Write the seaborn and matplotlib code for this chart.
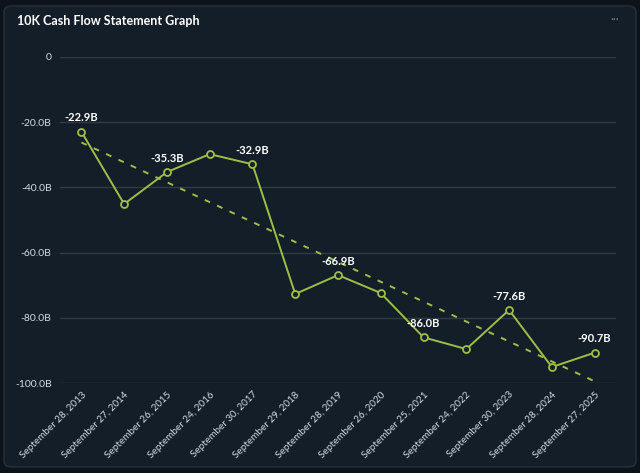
import numpy as np
import pandas as pd
import seaborn as sns
import matplotlib
matplotlib.use("Agg")
import matplotlib.pyplot as plt
from matplotlib.patches import FancyBboxPatch

# fiscal year end dates and values (billions)
dates = ["September 28, 2013", "September 27, 2014", "September 26, 2015",
         "September 24, 2016", "September 30, 2017", "September 29, 2018",
         "September 28, 2019", "September 26, 2020", "September 25, 2021",
         "September 24, 2022", "September 30, 2023", "September 28, 2024",
         "September 27, 2025"]
values = [-22.9, -45.1, -35.3, -29.8, -32.9, -72.7, -66.9, -72.4,
          -86.0, -89.6, -77.6, -95.1, -90.7]
labelled = [0, 2, 4, 6, 8, 10, 12]

df = pd.DataFrame({"date": dates, "value": values})
df["idx"] = np.arange(len(df))

bg_outer = "#0c131a"
bg_card = "#131e28"
green = "#9dbf48"
grid_c = "#2f3b46"
text_c = "#d5dbe0"

sns.set_theme(style="dark")
plt.rcParams["font.family"] = ["Lato", "DejaVu Sans"]

fig = plt.figure(figsize=(6.4, 4.73), dpi=100, facecolor=bg_outer)
card = FancyBboxPatch((4 / 640, 6 / 473), 632 / 640, 461 / 473,
                      boxstyle="round,pad=0,rounding_size=0.012",
                      transform=fig.transFigure, facecolor=bg_card,
                      edgecolor="#26313b", linewidth=1, zorder=-5)
fig.patches.append(card)
fig.text(17 / 640, 1 - 21 / 473, "10K Cash Flow Statement Graph", color="white",
         fontsize=9, fontweight="bold", va="center", ha="left")
fig.text(615 / 640, 1 - 20 / 473, "···", color="#6f7a83", fontsize=8,
         va="center", ha="center")

ax = fig.add_axes([60 / 640, 1 - 383 / 473, 556 / 640, 326 / 473])
ax.set_facecolor(bg_card)

# trend line
coef = np.polyfit(df["idx"], df["value"], 1)
trend = np.polyval(coef, df["idx"])
sns.lineplot(x=df["idx"], y=trend, ax=ax, color=green, linewidth=1.4,
             linestyle=(0, (3, 4)), zorder=3)

sns.lineplot(data=df, x="idx", y="value", ax=ax, color=green, linewidth=1.4,
             marker="o", markersize=5, markerfacecolor=bg_card,
             markeredgecolor=green, markeredgewidth=1.3, zorder=4)

for i in labelled:
    ax.annotate(f"{values[i]:.1f}B", (i, values[i]), xytext=(0, 6),
                textcoords="offset points", ha="center", va="bottom",
                color="white", fontsize=8, fontweight="bold", zorder=5)

ax.set_xlim(-0.5, 12.5)
ax.set_ylim(-100, 0)
ax.set_yticks([0, -20, -40, -60, -80, -100])
ax.set_yticklabels(["0", "-20.0B", "-40.0B", "-60.0B", "-80.0B", "-100.0B"])
ax.set_xticks(df["idx"])
ax.set_xticklabels(dates, rotation=45, ha="right", rotation_mode="anchor")
ax.tick_params(axis="both", colors=text_c, labelsize=7.5, length=0, pad=6)
ax.tick_params(axis="x", pad=5, labelsize=7.1)
ax.grid(axis="y", color=grid_c, linewidth=1)
ax.grid(axis="x", visible=False)
for s in ax.spines.values():
    s.set_visible(False)
ax.set_xlabel("")
ax.set_ylabel("")

fig.savefig("out.png", dpi=100, facecolor=bg_outer)
